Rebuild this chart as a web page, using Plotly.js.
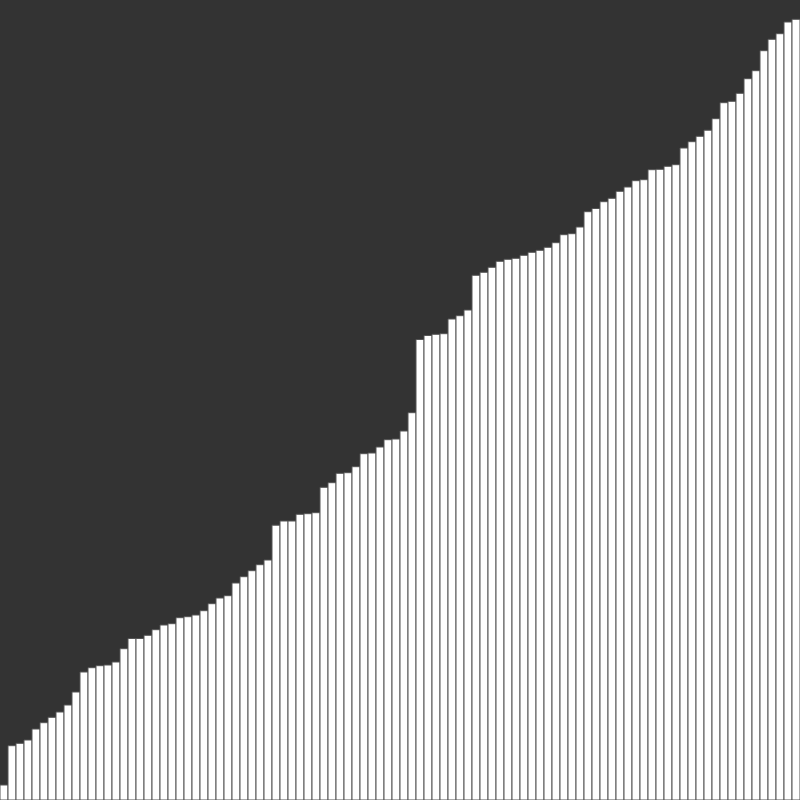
<!DOCTYPE html>
<html>
<head>
<meta charset="utf-8">
<script src="https://cdn.plot.ly/plotly-3.0.1.min.js"></script>
<style>
  html, body { margin: 0; padding: 0; background: #333333; }
  #chart { width: 800px; height: 800px; }
</style>
</head>
<body>
<div id="chart"></div>
<script>
// bar heights, sorted ascending
const values = [
  15, 54.3, 56.7, 60, 71, 77.3, 82.7, 88, 95, 108,
  128, 132.3, 134.3, 135, 138, 151.3, 161.5, 161.5, 164.7, 170.3,
  175, 176.3, 182.3, 183.3, 185, 189.3, 196.3, 202, 204.3, 217,
  223.3, 229.3, 235.3, 240, 274.8, 279, 279, 285.7, 286.3, 287.3,
  312.7, 317.3, 326.7, 327.3, 333.3, 346.3, 347, 353, 360.3, 361,
  369, 387.3, 460.5, 464.5, 465.7, 466.3, 481, 484.3, 490, 524.7,
  527.7, 532.7, 538.7, 540.7, 541.7, 544.7, 547.7, 549.7, 552.7, 557.3,
  565.3, 566.3, 573, 588.3, 591.5, 598.3, 601.7, 608.7, 613, 619.3,
  620.3, 630.3, 630.7, 633.7, 635.3, 652, 658.3, 663.7, 669.8, 681.3,
  697.3, 698.7, 706.7, 721.3, 729.3, 749.3, 760.7, 766.3, 778, 780.7
];
const categories = values.map((v, i) => i);

const trace = {
  type: 'bar',
  x: categories,
  y: values,
  marker: { color: '#ffffff', line: { color: '#555555', width: 1 } },
  hoverinfo: 'none'
};

const layout = {
  width: 800,
  height: 800,
  margin: { t: 0, b: 0, l: 0, r: 0, pad: 0 },
  paper_bgcolor: '#333333',
  plot_bgcolor: '#333333',
  bargap: 0,
  showlegend: false,
  xaxis: { visible: false, range: [-0.5, values.length - 0.5] },
  yaxis: { visible: false, range: [0, 800] }
};

Plotly.newPlot('chart', [trace], layout, { displayModeBar: false, staticPlot: true });
</script>
</body>
</html>
